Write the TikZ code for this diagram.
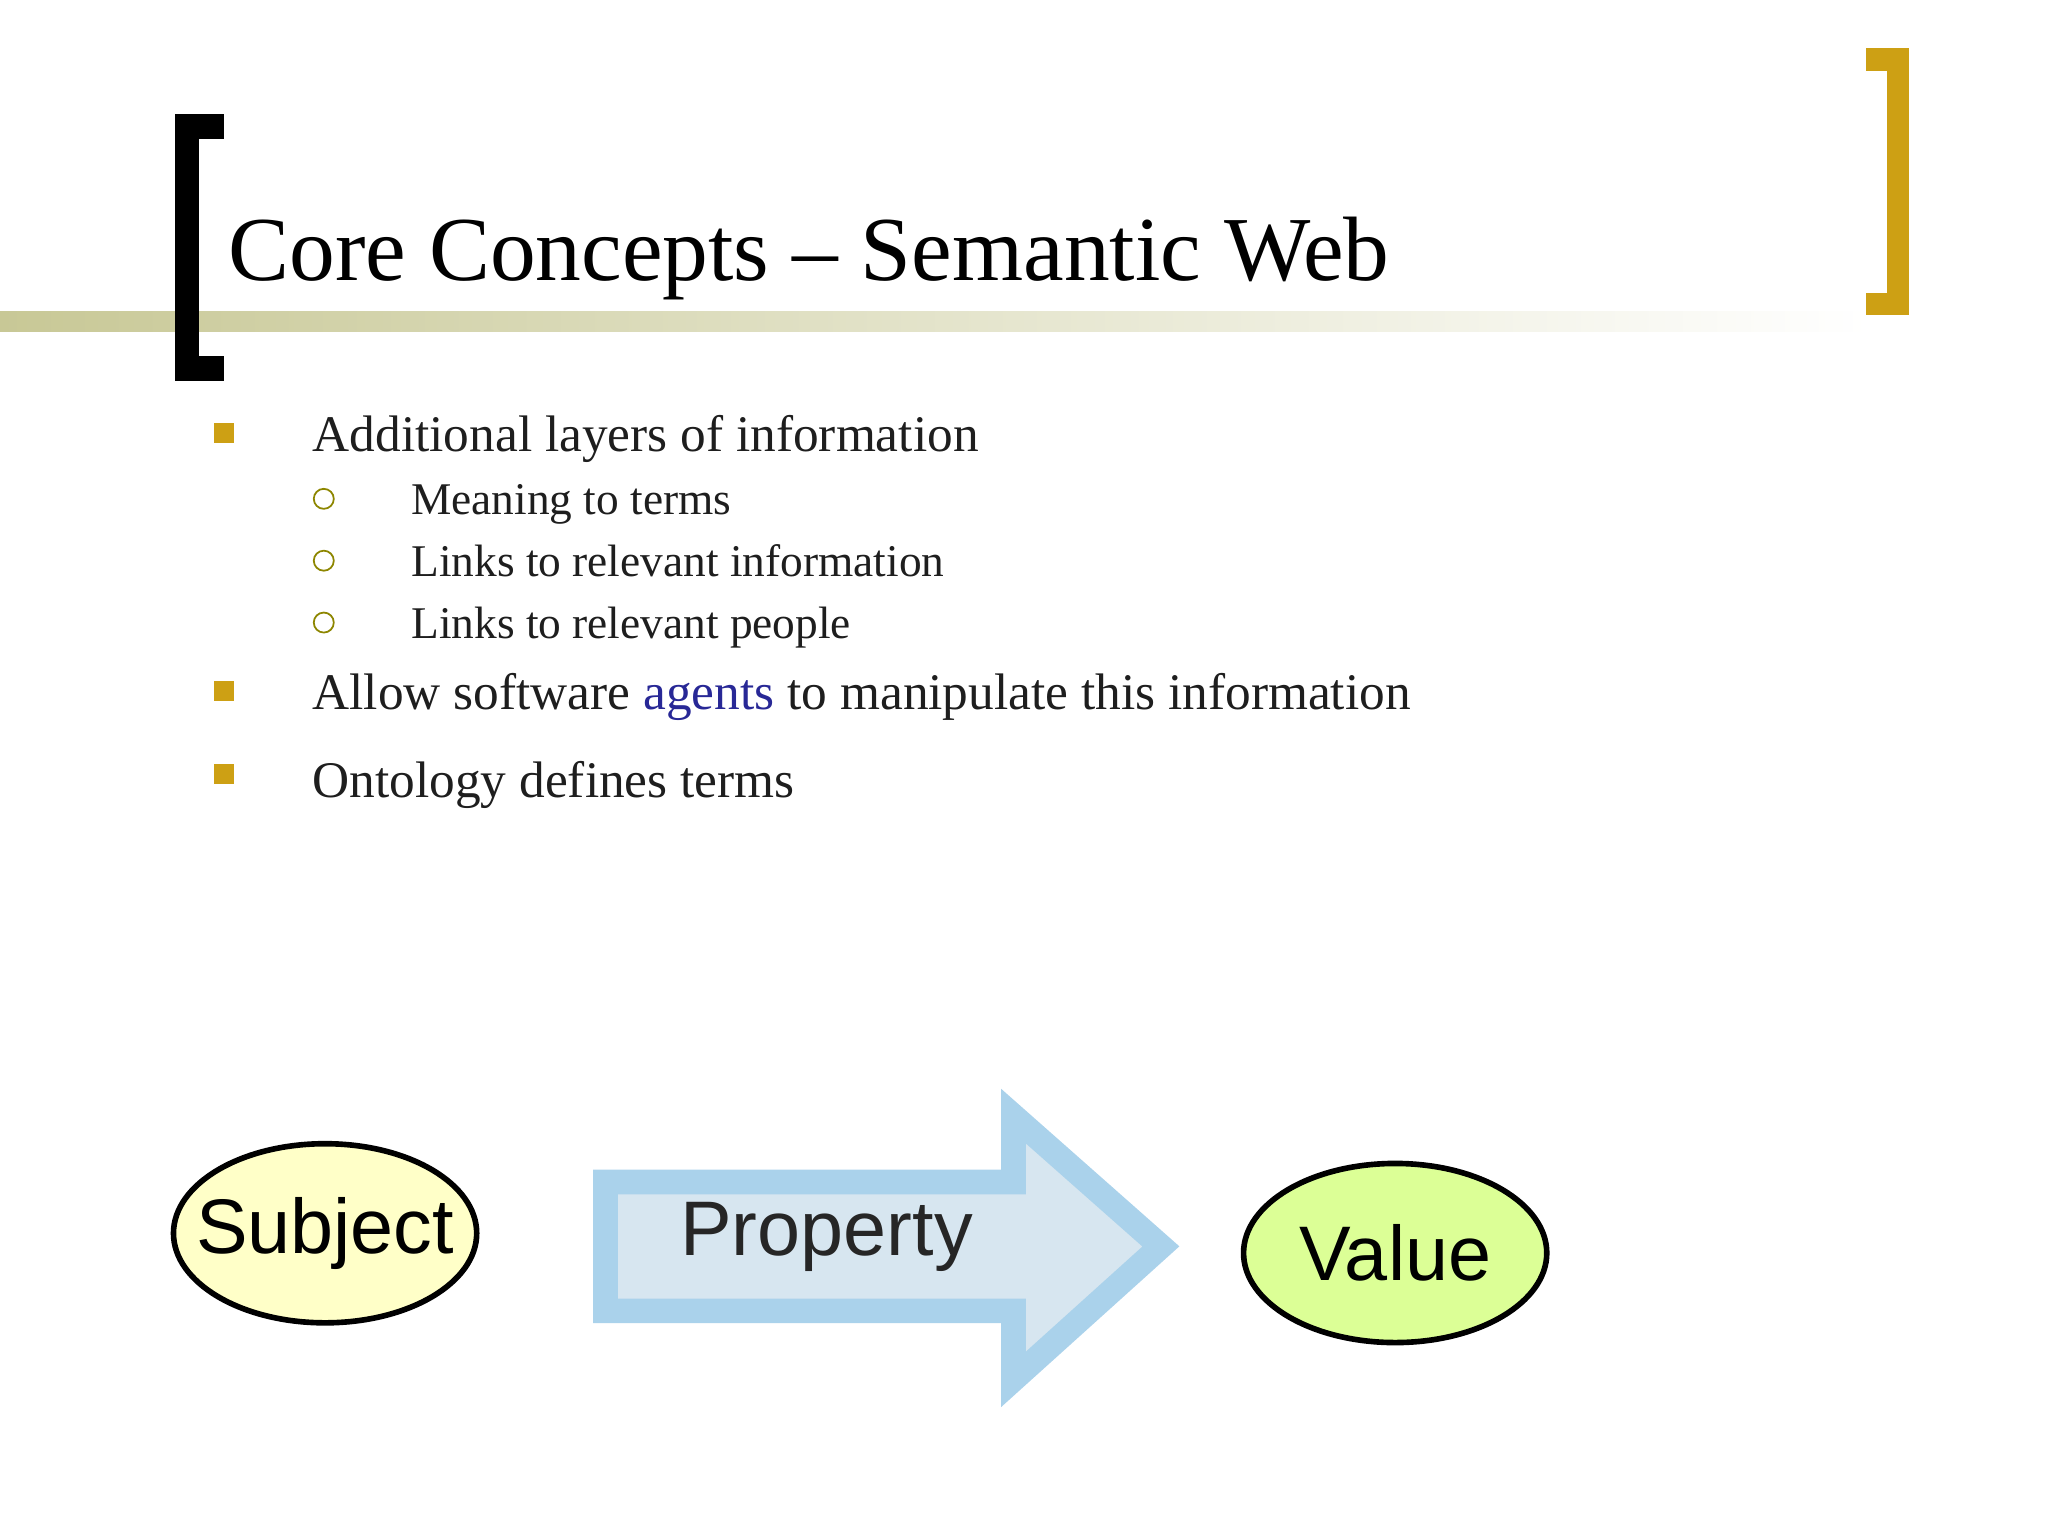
\documentclass[tikz,border=0pt]{standalone}
\usepackage{fontspec}
\setmainfont{Liberation Serif}
\newfontfamily\arialfont{Liberation Sans}
\usetikzlibrary{positioning}
\definecolor{gold}{RGB}{205,160,20}
\definecolor{olivebar}{RGB}{200,200,150}
\definecolor{subjfill}{RGB}{255,255,200}
\definecolor{valfill}{RGB}{220,255,150}
\definecolor{arrowedge}{RGB}{170,210,235}
\definecolor{arrowfill}{RGB}{215,230,240}
\definecolor{agentblue}{RGB}{40,40,150}
\definecolor{textgrey}{RGB}{30,30,30}
\tikzset{
  mainitem/.style={anchor=base west,font=\fontsize{14.6pt}{17pt}\selectfont,text=textgrey,inner sep=0pt},
  subitem/.style={anchor=base west,font=\fontsize{12.9pt}{15pt}\selectfont,text=textgrey,inner sep=0pt},
  sqbullet/.style={fill=gold,minimum size=0.2cm,inner sep=0pt},
  ringbullet/.style={draw=olive,circle,minimum size=0.2cm,inner sep=0pt,line width=0.5pt},
  blob/.style={ellipse,draw=black,line width=1.6pt,inner sep=0pt,minimum width=3.03cm,minimum height=1.79cm,font=\arialfont\fontsize{22pt}{24pt}\selectfont}
}
\usetikzlibrary{shapes.geometric}
\begin{document}
\begin{tikzpicture}[x=0.01316cm,y=-0.01316cm]
	\useasboundingbox (0,0) rectangle (1556,1167);

	% title bar
	\shade[left color=olivebar,right color=white] (0,237) rectangle (1420,252);
	\draw[line width=7pt,line cap=butt] (170,96) -- (142,96) -- (142,280) -- (170,280);
	\draw[gold,line width=6.5pt] (1418,45) -- (1442,45) -- (1442,231) -- (1418,231);
	\node[anchor=base west,inner sep=0pt,font=\fontsize{26pt}{30pt}\selectfont] (title) at (173,213) {Core Concepts -- Semantic Web};

	% bullets
	\node[sqbullet] (b1) at (170,329) {};
	\node[mainitem] (t1) at (237,343) {Additional layers of information};
	\node[ringbullet] (c1) at (246,379) {};
	\node[subitem] (s1) at (312,391) {Meaning to terms};
	\node[ringbullet] (c2) at (246,426) {};
	\node[subitem] (s2) at (312,438) {Links to relevant information};
	\node[ringbullet] (c3) at (246,473) {};
	\node[subitem] (s3) at (312,485) {Links to relevant people};
	\node[sqbullet] (b2) at (170,525) {};
	\node[mainitem] (t2) at (237,539) {Allow software \textcolor{agentblue}{agents} to manipulate this information};
	\node[sqbullet] (b3) at (170,588) {};
	\node[mainitem] (t3) at (237,606) {Ontology defines terms};

	% triple
	\node[blob,fill=subjfill] (subj) at (247,937) {\makebox[1.2cm]{Subject}};
	\node[blob,fill=valfill] (val) at (1060,952) {\makebox[1.2cm]{Value}};
	\filldraw[draw=arrowedge,fill=arrowfill,line width=7pt,line join=miter]
	  (460,898) -- (770,898) -- (770,848) -- (882,947) -- (770,1048) -- (770,996) -- (460,996) -- cycle;
	\node[font=\arialfont\fontsize{22pt}{24pt}\selectfont,text=black!85] (prop) at (628,940) {Property};
\end{tikzpicture}
\end{document}
